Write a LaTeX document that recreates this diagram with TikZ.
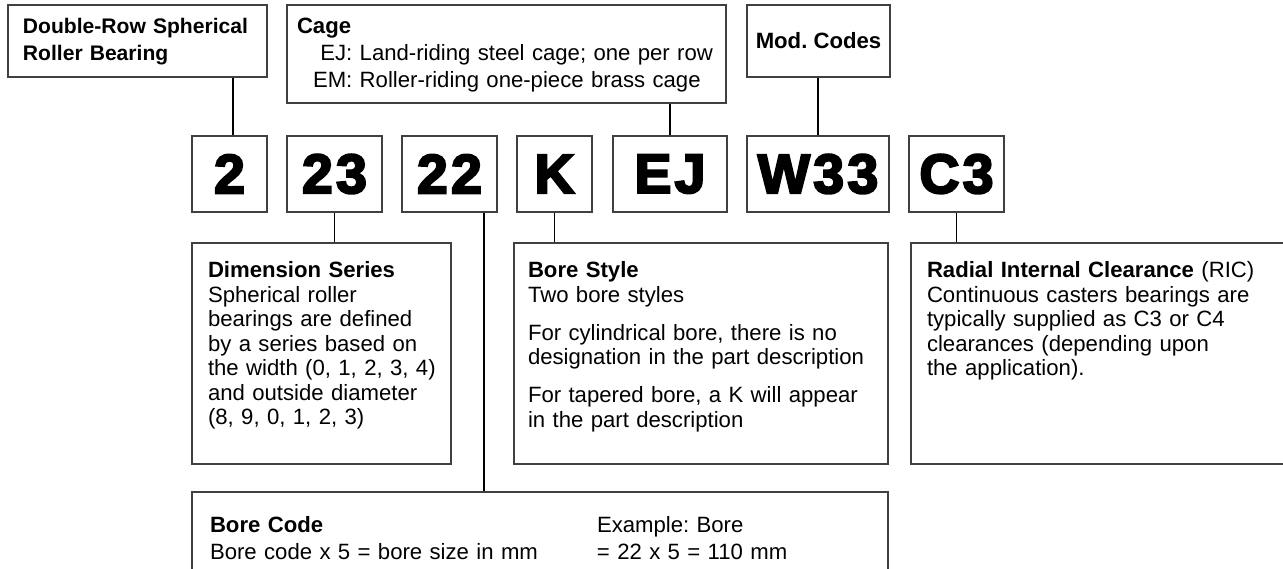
\documentclass[tikz,border=0pt]{standalone}
\usepackage{fontspec}
\setmainfont{Liberation Sans}
\newfontfamily\codefont{Liberation Sans}[BoldFeatures={FakeBold=4,LetterSpace=6}]
\usepackage{tikz}
\usetikzlibrary{positioning}
\frenchspacing

\begin{document}
\begin{tikzpicture}[
    font=\fontsize{12.6}{13.9}\selectfont,
    box/.style={rectangle, draw=black!75, line width=0.9pt, inner ysep=0pt, align=left},
    headbox/.style={box, inner xsep=0.3cm, font=\fontsize{12.6}{15.3}\selectfont, text height=0.58cm},
    descbox/.style={box, text height=0.70cm, text depth=3.72cm},
    codebox/.style={box, inner sep=0pt, minimum height=1.52cm, font=\codefont\bfseries\fontsize{31.5}{31.5}\selectfont},
    link/.style={draw=black, line width=1.1pt}
]
\clip (0,0) rectangle (25.66,11.38);

\node[headbox, text width=4.58cm, text depth=0.86cm, font=\fontsize{12}{15.3}\selectfont\bfseries] (Type) at (2.75,10.56) {Double-Row Spherical\\Roller Bearing};

\node[headbox, inner xsep=0.2cm, text width=8.38cm, text depth=1.38cm] (Cage) at (10.13,10.30) {\textbf{Cage}\\
\begin{tabular}[t]{@{\hspace{0.32cm}}r@{\ }l@{}}
EJ: & Land-riding steel cage; one per row\\
EM: & Roller-riding one-piece brass cage
\end{tabular}};

\node[box, align=center, minimum width=2.86cm, minimum height=1.44cm, font=\fontsize{12.6}{15}\selectfont\bfseries] (ModCodes) at (16.37,10.56) {Mod. Codes};

\node[codebox, minimum width=1.50cm] (C2) at (4.59,7.90) {2};
\node[codebox, minimum width=1.90cm] (C23) at (6.69,7.90) {23};
\node[codebox, minimum width=1.90cm] (C22) at (8.99,7.90) {22};
\node[codebox, minimum width=1.50cm] (CK) at (11.09,7.90) {K};
\node[codebox, minimum width=2.28cm] (CEJ) at (13.40,7.90) {EJ};
\node[codebox, minimum width=2.84cm] (CW33) at (16.36,7.90) {W33};
\node[codebox, minimum width=1.90cm] (CC3) at (19.13,7.90) {C3};

\node[descbox, inner xsep=0.32cm, text width=4.54cm] (Dimension) at (6.43,4.31) {\textbf{Dimension Series}\\Spherical roller\\bearings are defined\\by a series based on\\\mbox{the width (0, 1, 2, 3, 4)}\\and outside diameter\\(8, 9, 0, 1, 2, 3)};

\node[descbox, inner xsep=0.28cm, text width=6.92cm] (BoreStyle) at (14.02,4.31) {\textbf{Bore Style}\\Two bore styles\\[0.27cm]For cylindrical bore, there is no\\designation in the part description\\[0.27cm]For tapered bore, a K will appear\\in the part description};

\node[descbox, inner xsep=0.32cm, text width=7.14cm] (RIC) at (22.11,4.31) {\textbf{Radial Internal Clearance} (RIC)\\Continuous casters bearings are\\typically supplied as C3 or C4\\clearances (depending upon\\the application).};

\node[box, inner xsep=0.36cm, text width=13.2cm, text height=0.82cm, text depth=1.34cm, font=\fontsize{12.6}{15.3}\selectfont] (BoreCode) at (10.80,0.46) {\begin{tabular}[t]{@{}p{7.74cm}@{}l@{}}
\textbf{Bore Code} & Example: Bore\\
Bore code x 5 = bore size in mm & = 22 x 5 = 110 mm
\end{tabular}};

\coordinate (TypeTap) at ([xshift=0.07cm]C2.north);
\draw[link] (TypeTap) -- (TypeTap |- Type.south);
\draw[link] (CEJ.north) -- (CEJ.north |- Cage.south);
\draw[link] (CW33.north) -- (CW33.north |- ModCodes.south);
\draw[link] (C23.south) -- (C23.south |- Dimension.north);
\coordinate (BoreTap) at ([xshift=-0.28cm]C22.south east);
\draw[link] (BoreTap) -- (BoreTap |- BoreCode.north);
\draw[link] (CK.south) -- (CK.south |- BoreStyle.north);
\draw[link] (CC3.south) -- (CC3.south |- RIC.north);
\end{tikzpicture}
\end{document}
